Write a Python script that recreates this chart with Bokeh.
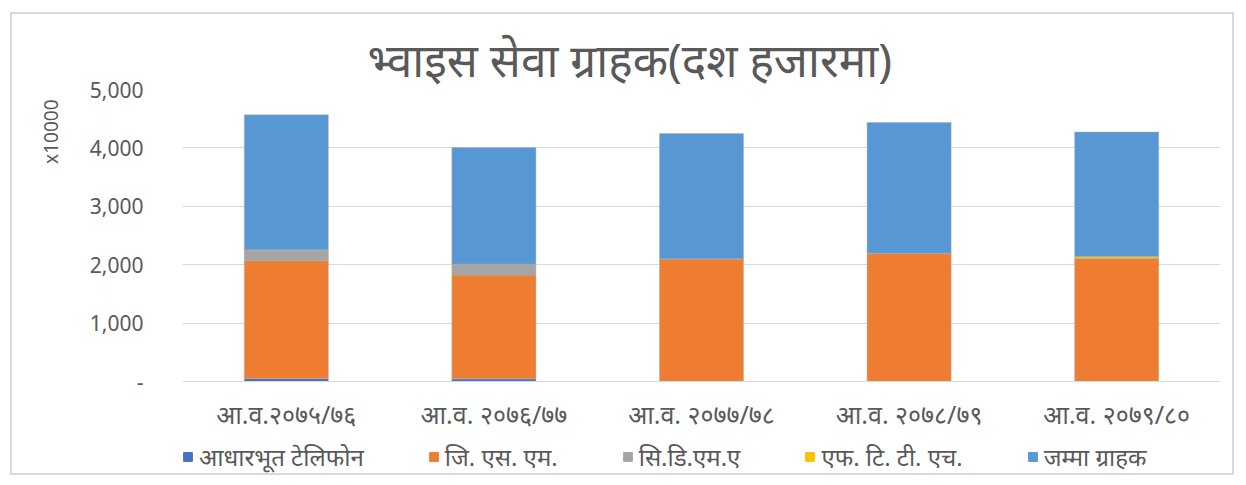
import math
from bokeh.plotting import figure
from bokeh.models import (ColumnDataSource, FactorRange, Range1d, FixedTicker,
                          CustomJSTickFormatter, Legend, Title)
from bokeh.layouts import column
from bokeh.embed import file_html
from bokeh.resources import INLINE

# ---- data (in units of 10,000 subscribers) ----
years = ["आ.व.२०७५/७६", "आ.व. २०७६/७७", "आ.व. २०७७/७८", "आ.व. २०७८/७९", "आ.व. २०७९/८०"]
basic_telephone = [50, 45, 4, 4, 4]
gsm = [2021, 1779, 2096, 2194, 2101]
cdma = [184, 185, 0, 0, 0]
ftth = [0, 0, 0, 0, 34]
total = [2311, 1996, 2146, 2237, 2134]

series_keys = ["tel", "gsm", "cdma", "ftth", "total"]
series_names = ["आधारभूत टेलिफोन", "जि. एस. एम.", "सि.डि.एम.ए", "एफ. टि. टी. एच.", "जम्मा ग्राहक"]
series_colors = ["#4472C4", "#EE7D31", "#A5A5A5", "#FFC000", "#5797D4"]
y_ticks = [0, 1000, 2000, 3000, 4000, 5000]

src = ColumnDataSource(dict(x=years, tel=basic_telephone, gsm=gsm, cdma=cdma,
                            ftth=ftth, total=total))

FONT = "Noto Sans"
GREY = "#595959"

# ---- main chart ----
p = figure(x_range=FactorRange(*years), y_range=Range1d(0, 5000),
           frame_width=1038, frame_height=292, output_backend="svg",
           toolbar_location=None,
           min_border_left=168, min_border_right=12, min_border_top=75,
           min_border_bottom=51)

p.vbar_stack(series_keys, x="x", width=0.405, source=src,
             color=series_colors, line_color="#b0b0b0", line_alpha=0.5,
             line_width=1)

p.title = Title(text="भ्वाइस सेवा ग्राहक(दश हजारमा)", text_font=FONT,
                text_font_size="46px", text_font_style="normal", text_color=GREY,
                align="left", offset=185, standoff=0)

p.outline_line_color = None
p.xgrid.grid_line_color = None
p.ygrid.grid_line_color = "#d9d9d9"
p.ygrid.grid_line_width = 1

p.yaxis.ticker = FixedTicker(ticks=y_ticks)
p.yaxis.formatter = CustomJSTickFormatter(
    code="return tick == 0 ? '-' : tick.toLocaleString('en-US');")
p.yaxis.axis_line_color = None
p.yaxis.major_tick_line_color = None
p.yaxis.minor_tick_line_color = None
p.yaxis.major_label_standoff = 33
p.yaxis.major_label_text_font = FONT
p.yaxis.major_label_text_font_size = "21px"
p.yaxis.major_label_text_color = GREY

p.xaxis.axis_line_color = "#d9d9d9"
p.xaxis.major_tick_line_color = None
p.xaxis.minor_tick_line_color = None
p.xaxis.major_label_standoff = 9
p.xaxis.major_label_text_font = FONT
p.xaxis.major_label_text_font_size = "25px"
p.xaxis.major_label_text_color = GREY

p.add_layout(Title(text="x10000", align="right", offset=10, standoff=46,
                   text_font=FONT, text_font_size="19px",
                   text_font_style="normal", text_color=GREY), "left")

# ---- legend strip (same series, zero-width bars: only the legend shows) ----
pl = figure(x_range=p.x_range, y_range=Range1d(1e7, 1e7 + 1), width=1218, height=40,
            x_axis_type=None, y_axis_type=None, min_border=0, title=None,
            output_backend="svg", toolbar_location=None)
pl.outline_line_color = None
legend_renderers = pl.vbar_stack(series_keys, x="x", width=0, source=src,
                                 color=series_colors)

legend = Legend(items=[(n, [r]) for n, r in zip(series_names, legend_renderers)],
                orientation="horizontal", location=(0, 0),
                label_text_font=FONT, label_text_font_size="24px",
                label_text_color=GREY, glyph_width=11, glyph_height=11,
                spacing=64, label_standoff=6, border_line_color=None,
                background_fill_alpha=0, padding=0, margin=0)
pl.add_layout(legend, "center")

layout = column(p, pl, spacing=0,
                styles={"margin-left": "10px", "margin-top": "12px",
                        "border": "2px solid #d9d9d9"})

open("out.html", "w").write(file_html(layout, INLINE))
